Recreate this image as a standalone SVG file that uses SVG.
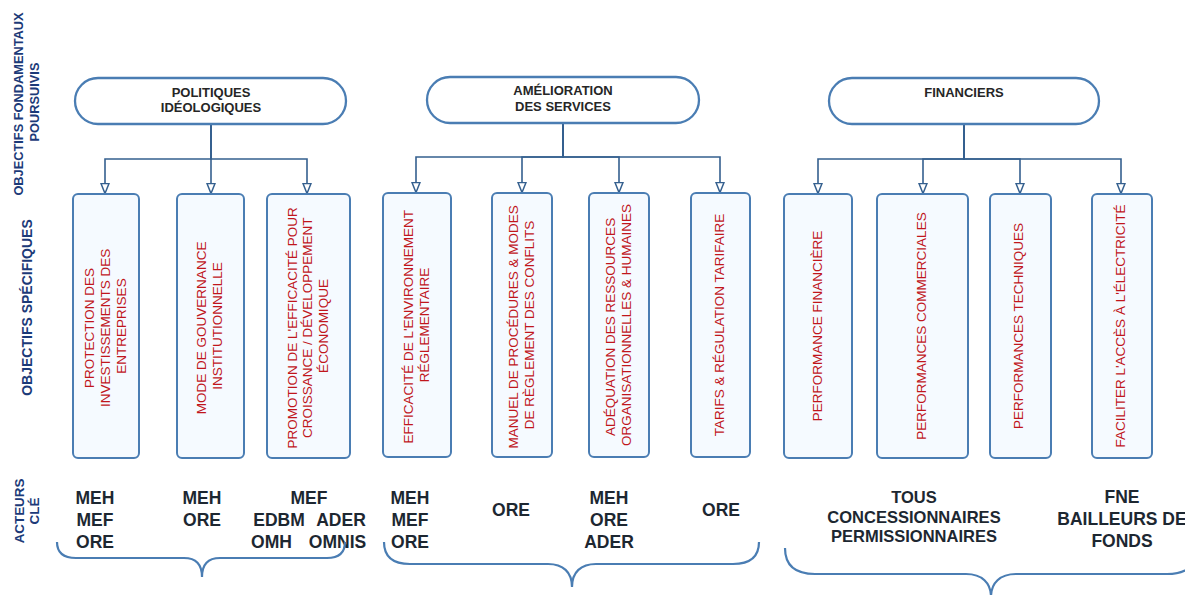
<svg xmlns="http://www.w3.org/2000/svg" width="1185" height="595" viewBox="0 0 1185 595">
  <style>
    .pill { fill: #ffffff; stroke: #4a7db3; stroke-width: 2.3; }
    .box { fill: #f5faff; stroke: #4a7db3; stroke-width: 2; }
    .ptxt { font-family: "Liberation Sans", Arial, sans-serif; font-weight: bold; font-size: 13px; fill: #262626; text-anchor: middle; }
    .btxt { font-family: "Liberation Sans", Arial, sans-serif; font-size: 13.5px; fill: #c0161c; text-anchor: middle; }
    .side { font-family: "Liberation Sans", Arial, sans-serif; font-weight: bold; font-size: 13px; fill: #1c3a78; text-anchor: middle; }
    .act { font-family: "Liberation Sans", Arial, sans-serif; font-weight: bold; font-size: 17.5px; fill: #1d2731; text-anchor: middle; }
    .act2 { font-family: "Liberation Sans", Arial, sans-serif; font-weight: bold; font-size: 16.5px; fill: #1d2731; text-anchor: middle; }
    .link { fill: none; stroke: #35608f; stroke-width: 1.6; marker-end: url(#open-arrow); }
    .brace { fill: none; stroke: #4a7db3; stroke-width: 2.2; }
  </style>
  <defs>
    <marker id="open-arrow" viewBox="0 0 12 10" refX="11" refY="5" markerWidth="12" markerHeight="10" markerUnits="userSpaceOnUse" orient="auto">
      <path d="M1,1 L11,5 L1,9 Z" fill="#ffffff" stroke="#35608f" stroke-width="1.5" stroke-linejoin="miter"/>
    </marker>
  </defs>

  <rect width="1185" height="595" fill="#ffffff"/>

  <!-- row headings -->
  <g id="row-labels">
    <text class="side" style="font-size:12.8px" transform="translate(22.7,104) rotate(-90)">OBJECTIFS FONDAMENTAUX</text>
    <text class="side" style="font-size:12.8px" transform="translate(38.7,102) rotate(-90)">POURSUIVIS</text>
    <text class="side" style="font-size:14px" transform="translate(32,307.5) rotate(-90)">OBJECTIFS SPÉCIFIQUES</text>
    <text class="side" style="font-size:13.4px" transform="translate(23.5,511) rotate(-90)">ACTEURS</text>
    <text class="side" style="font-size:13.4px" transform="translate(38.8,511) rotate(-90)">CLÉ</text>
  </g>

  <!-- connectors -->
  <g id="connectors">
    <path class="link" d="M211,124 V159 H105 V193.5"/>
    <path class="link" d="M211,124 V193.5"/>
    <path class="link" d="M211,124 V159 H307 V193.5"/>

    <path class="link" d="M563,123 V157 H416 V192.5"/>
    <path class="link" d="M563,123 V157 H522 V192.5"/>
    <path class="link" d="M563,123 V157 H619 V192.5"/>
    <path class="link" d="M563,123 V157 H720 V192.5"/>

    <path class="link" d="M964,124 V159 H818 V193.5"/>
    <path class="link" d="M964,124 V159 H923 V193.5"/>
    <path class="link" d="M964,124 V159 H1020 V193.5"/>
    <path class="link" d="M964,124 V159 H1121 V193.5"/>
  </g>

  <!-- fundamental objectives -->
  <g id="node-politiques">
    <rect class="pill" x="75" y="78" width="271" height="46" rx="23"/>
    <text class="ptxt" x="211" y="97">POLITIQUES</text>
    <text class="ptxt" x="211" y="112">IDÉOLOGIQUES</text>
  </g>
  <g id="node-amelioration">
    <rect class="pill" x="427" y="77" width="272" height="46" rx="23"/>
    <text class="ptxt" x="563" y="95">AMÉLIORATION</text>
    <text class="ptxt" x="563" y="110.5">DES SERVICES</text>
  </g>
  <g id="node-financiers">
    <rect class="pill" x="829" y="78" width="270" height="46" rx="23"/>
    <text class="ptxt" x="964" y="97">FINANCIERS</text>
  </g>

  <!-- specific objectives -->
  <g id="obj-protection">
    <rect class="box" x="73" y="194" width="66" height="264" rx="5"/>
    <text class="btxt" transform="translate(93.5,326) rotate(-90)">
      <tspan x="0" y="0">PROTECTION DES</tspan>
      <tspan x="0" y="16">INVESTISSEMENTS DES</tspan>
      <tspan x="0" y="32">ENTREPRISES</tspan>
    </text>
  </g>
  <g id="obj-gouvernance">
    <rect class="box" x="177" y="194" width="67" height="264" rx="5"/>
    <text class="btxt" transform="translate(206,326) rotate(-90)">
      <tspan x="0" y="0">MODE DE GOUVERNANCE</tspan>
      <tspan x="0" y="15.5">INSTITUTIONNELLE</tspan>
    </text>
  </g>
  <g id="obj-promotion">
    <rect class="box" x="267" y="194" width="83" height="264" rx="5"/>
    <text class="btxt" transform="translate(296.5,326) rotate(-90)">
      <tspan x="0" y="0">PROMOTION DE L'EFFICACITÉ POUR</tspan>
      <tspan x="0" y="15.5">CROISSANCE / DÉVELOPPEMENT</tspan>
      <tspan x="0" y="31.5">ÉCONOMIQUE</tspan>
    </text>
  </g>
  <g id="obj-efficacite">
    <rect class="box" x="383" y="193" width="68" height="264" rx="5"/>
    <text class="btxt" transform="translate(412.5,325) rotate(-90)">
      <tspan x="0" y="0">EFFICACITÉ DE L'ENVIRONNEMENT</tspan>
      <tspan x="0" y="16">RÉGLEMENTAIRE</tspan>
    </text>
  </g>
  <g id="obj-manuel">
    <rect class="box" x="492" y="193" width="60" height="264" rx="5"/>
    <text class="btxt" transform="translate(517.5,325) rotate(-90)">
      <tspan x="0" y="0">MANUEL DE PROCÉDURES &amp; MODES</tspan>
      <tspan x="0" y="16">DE RÈGLEMENT DES CONFLITS</tspan>
    </text>
  </g>
  <g id="obj-adequation">
    <rect class="box" x="589" y="193" width="60" height="264" rx="5"/>
    <text class="btxt" transform="translate(615,325) rotate(-90)">
      <tspan x="0" y="0">ADÉQUATION DES RESSOURCES</tspan>
      <tspan x="0" y="16">ORGANISATIONNELLES &amp; HUMAINES</tspan>
    </text>
  </g>
  <g id="obj-tarifs">
    <rect class="box" x="691" y="193" width="59" height="264" rx="5"/>
    <text class="btxt" transform="translate(723.5,325) rotate(-90)">TARIFS &amp; RÉGULATION TARIFAIRE</text>
  </g>
  <g id="obj-perf-financiere">
    <rect class="box" x="784" y="194" width="68" height="264" rx="5"/>
    <text class="btxt" transform="translate(821.5,326) rotate(-90)">PERFORMANCE FINANCIÈRE</text>
  </g>
  <g id="obj-perf-commerciales">
    <rect class="box" x="877" y="194" width="91" height="264" rx="5"/>
    <text class="btxt" transform="translate(926,326) rotate(-90)">PERFORMANCES COMMERCIALES</text>
  </g>
  <g id="obj-perf-techniques">
    <rect class="box" x="990" y="194" width="61" height="264" rx="5"/>
    <text class="btxt" transform="translate(1023,326) rotate(-90)">PERFORMANCES TECHNIQUES</text>
  </g>
  <g id="obj-acces">
    <rect class="box" x="1092" y="194" width="60" height="264" rx="5"/>
    <text class="btxt" transform="translate(1125,326) rotate(-90)">FACILITER L'ACCÈS À L'ÉLECTRICITÉ</text>
  </g>

  <!-- key actors -->
  <g id="actors">
    <text class="act" x="95" y="504">MEH</text>
    <text class="act" x="95" y="526">MEF</text>
    <text class="act" x="95" y="548">ORE</text>

    <text class="act" x="202" y="504">MEH</text>
    <text class="act" x="202" y="526">ORE</text>

    <text class="act" x="309" y="504">MEF</text>
    <text class="act" x="279" y="526">EDBM</text>
    <text class="act" x="341" y="526">ADER</text>
    <text class="act" x="271.5" y="548">OMH</text>
    <text class="act" x="337.5" y="548">OMNIS</text>

    <text class="act" x="410" y="504">MEH</text>
    <text class="act" x="410" y="526">MEF</text>
    <text class="act" x="410" y="548">ORE</text>

    <text class="act" x="511" y="515.5">ORE</text>

    <text class="act" x="609" y="504">MEH</text>
    <text class="act" x="609" y="526">ORE</text>
    <text class="act" x="609" y="548">ADER</text>

    <text class="act" x="721" y="515.5">ORE</text>

    <text class="act2" x="914" y="503">TOUS</text>
    <text class="act2" x="914" y="523">CONCESSIONNAIRES</text>
    <text class="act2" x="914" y="542">PERMISSIONNAIRES</text>

    <text class="act" x="1122" y="503">FNE</text>
    <text class="act" x="1122" y="525">BAILLEURS DE</text>
    <text class="act" x="1122" y="547">FONDS</text>
  </g>

  <!-- grouping braces -->
  <g id="braces">
    <path class="brace" d="M57,542 Q57,558 76,558 H184 C196,558 202,565 202,577 C202,565 208,558 220,558 H327 Q345,558 345,542"/>
    <path class="brace" d="M384,542 Q384,564 410,564 H548 C563,564 572,572 572,587 C572,572 581,564 596,564 H733 Q759,564 759,542"/>
    <path class="brace" d="M785,548 Q785,574 815,574 H966 C982,574 991,583 991,597 C991,583 1000,574 1016,574 H1167 Q1197,574 1197,548"/>
  </g>
</svg>
